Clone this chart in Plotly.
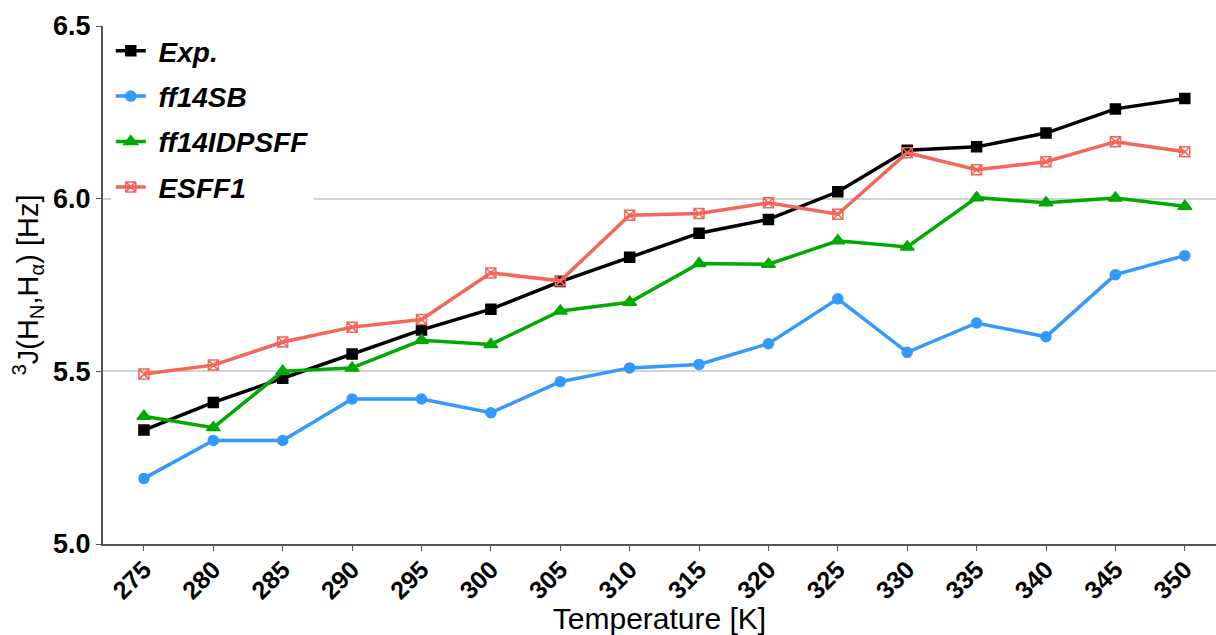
import plotly.graph_objects as go

temps = [275, 280, 285, 290, 295, 300, 305, 310, 315, 320, 325, 330, 335, 340, 345, 350]
exp_vals = [5.33, 5.41, 5.48, 5.55, 5.62, 5.68, 5.76, 5.83, 5.90, 5.94, 6.02, 6.14, 6.15, 6.19, 6.26, 6.29]
ff14sb_vals = [5.19, 5.30, 5.30, 5.42, 5.42, 5.38, 5.47, 5.51, 5.52, 5.58, 5.71, 5.555, 5.64, 5.60, 5.78, 5.835]
idps_vals = [5.37, 5.337, 5.50, 5.51, 5.59, 5.578, 5.675, 5.70, 5.812, 5.81, 5.878, 5.86, 6.003, 5.988, 6.002, 5.978]
esff1_vals = [5.492, 5.518, 5.585, 5.628, 5.65, 5.785, 5.762, 5.952, 5.957, 5.988, 5.955, 6.133, 6.084, 6.107, 6.165, 6.136]

series_names = ["Exp.", "ff14SB", "ff14IDPSFF", "ESFF1"]
series_vals = [exp_vals, ff14sb_vals, idps_vals, esff1_vals]
colors = ["#000000", "#3399ff", "#00aa00", "#f4655a"]
symbols = ["square", "circle", "triangle-up", "square-x-open"]
msizes = [10, 10, 12, 10]

fig = go.Figure()
for i, (name, vals) in enumerate(zip(series_names, series_vals)):
    fig.add_trace(go.Scatter(
        x=temps, y=vals, name=f"\u00a0<b><i>{name}</i></b>", mode="lines+markers",
        legendgroup=name,
        line=dict(color=colors[i], width=3.5),
        marker=dict(symbol=symbols[i], size=msizes[i], color=colors[i],
                    line=dict(color=colors[i], width=1.5)),
    ))

fig.update_layout(
    width=1216, height=635,
    margin=dict(l=103, r=0, t=26, b=91),
    plot_bgcolor="white", paper_bgcolor="white",
    font=dict(family="Arial, Liberation Sans, sans-serif", color="black"),
    showlegend=True,
    legend=dict(
        x=0.007, y=1, xanchor="left", yanchor="top",
        bgcolor="white", borderwidth=0,
        font=dict(size=28, family="Arial, Liberation Sans, sans-serif"),
        traceorder="grouped", tracegroupgap=6,
    ),
)
fig.update_xaxes(
    range=[272.05, 352.25], automargin=False,
    tickmode="array", tickvals=temps, ticktext=[f"<b>{t}</b>" for t in temps],
    tickangle=-45, tickfont=dict(size=25), ticklabelstandoff=-6,
    ticks="outside", ticklen=5, tickcolor="#555555",
    showline=True, linecolor="#555555", linewidth=2,
    showgrid=False, zeroline=False,
    title=dict(text="Temperature [K]", font=dict(size=30), standoff=8),
)
fig.update_yaxes(
    range=[5.0, 6.5], automargin=False,
    tickmode="array", tickvals=[5.0, 5.5, 6.0, 6.5],
    ticktext=["<b>5.0</b>", "<b>5.5</b>", "<b>6.0</b>", "<b>6.5</b>"],
    tickfont=dict(size=27),
    ticks="outside", ticklen=5, tickcolor="#555555",
    showline=True, linecolor="#555555", linewidth=2,
    showgrid=True, gridcolor="#d3d3d3", gridwidth=1.5,
    zeroline=False,
    title=dict(text="<sup>3</sup>J(H<sub>N</sub>,H<sub>α</sub>) [Hz]", font=dict(size=29), standoff=6),
)

fig.write_html("out.html")
